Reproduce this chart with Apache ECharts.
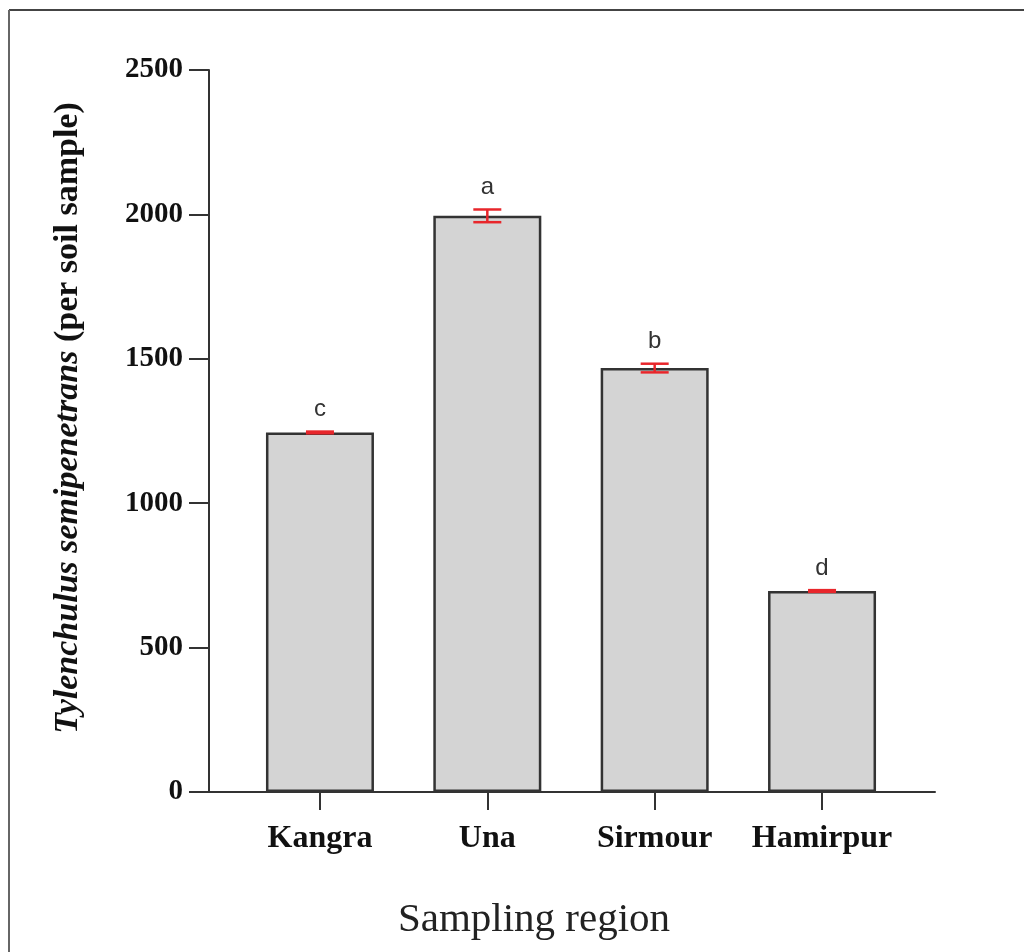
<!DOCTYPE html>
<html>
<head>
<meta charset="utf-8">
<script src="https://cdn.jsdelivr.net/npm/echarts@6/dist/echarts.min.js"></script>
<style>html,body{margin:0;padding:0;background:#fff}#c{width:1024px;height:952px}</style>
</head>
<body>
<div id="c"></div>
<script>
const categories = ['Kangra', 'Una', 'Sirmour', 'Hamirpur'];
const means = [1245, 1995, 1468, 696];
const errors = [3, 22, 15, 3];
const letters = ['c', 'a', 'b', 'd'];
const yTicks = [0, 500, 1000, 1500, 2000, 2500];

const chart = echarts.init(document.getElementById('c'));
const positions = categories.map((_, i) => i);
const serif = "'Liberation Serif', 'Times New Roman', serif";

chart.setOption({
  animation: false,
  backgroundColor: '#fff',
  grid: { left: 209, right: 89, top: 70, bottom: 160, containLabel: false },
  title: {
    text: 'Sampling region',
    left: 529, top: 895, textAlign: 'center',
    textStyle: { fontFamily: serif, fontWeight: 'normal', fontSize: 41, color: '#222' }
  },
  graphic: [
    { type: 'line', shape: { x1: 9, y1: 10, x2: 1024, y2: 10 }, style: { stroke: '#444', lineWidth: 2 } },
    { type: 'line', shape: { x1: 9, y1: 10, x2: 9, y2: 952 }, style: { stroke: '#666', lineWidth: 2 } }
  ],
  xAxis: {
    type: 'value', min: -0.663, max: 3.675,
    splitLine: { show: false },
    axisLine: { show: true, onZero: false, lineStyle: { color: '#333', width: 2 } },
    axisTick: { show: true, customValues: positions, length: 18, lineStyle: { color: '#333', width: 2 } },
    axisLabel: {
      customValues: positions, margin: 31,
      formatter: v => categories[Math.round(v)],
      fontFamily: serif, fontWeight: 'bold', fontSize: 32, color: '#111'
    }
  },
  yAxis: {
    type: 'value', min: 0, max: 2500, interval: 500,
    splitLine: { show: false },
    axisLine: { show: true, onZero: false, lineStyle: { color: '#333', width: 2 } },
    axisTick: { show: true, length: 20, customValues: yTicks, lineStyle: { color: '#333', width: 2 } },
    axisLabel: { margin: 26, formatter: v => String(v), fontFamily: serif, fontWeight: 'bold', fontSize: 29, color: '#111' },
    name: '{i|Tylenchulus semipenetrans} (per soil sample)',
    nameLocation: 'middle', nameRotate: 90, nameGap: 124,
    nameTextStyle: {
      fontFamily: serif, fontWeight: 'bold', fontSize: 34, color: '#111',
      padding: [0, 0, 0, 26],
      rich: { i: { fontFamily: serif, fontWeight: 'bold', fontStyle: 'italic', fontSize: 34, color: '#111' } }
    }
  },
  series: [
    {
      type: 'bar', barWidth: 108,
      data: means.map((m, i) => [positions[i], m]),
      itemStyle: { color: '#d4d4d4', borderColor: '#333', borderWidth: 2.5 }
    },
    {
      type: 'custom',
      data: means.map((m, i) => [positions[i], m, errors[i], i]),
      renderItem: (params, api) => {
        const x = api.value(0), m = api.value(1), e = api.value(2), idx = api.value(3);
        const top = api.coord([x, m + e]);
        const bot = api.coord([x, m - e]);
        const hw = 14;
        const red = { stroke: '#e8262b', lineWidth: 2.5 };
        return {
          type: 'group',
          children: [
            { type: 'line', shape: { x1: top[0], y1: top[1], x2: bot[0], y2: bot[1] }, style: red },
            { type: 'line', shape: { x1: top[0] - hw, y1: top[1], x2: top[0] + hw, y2: top[1] }, style: red },
            { type: 'line', shape: { x1: bot[0] - hw, y1: bot[1], x2: bot[0] + hw, y2: bot[1] }, style: red },
            { type: 'text', x: top[0], y: top[1] - 10,
              style: { text: letters[idx], textAlign: 'center', textVerticalAlign: 'bottom',
                       fontFamily: "'Liberation Sans', Arial, sans-serif", fontSize: 24, fill: '#333' } }
          ]
        };
      },
      z: 5
    }
  ]
});
</script>
</body>
</html>
